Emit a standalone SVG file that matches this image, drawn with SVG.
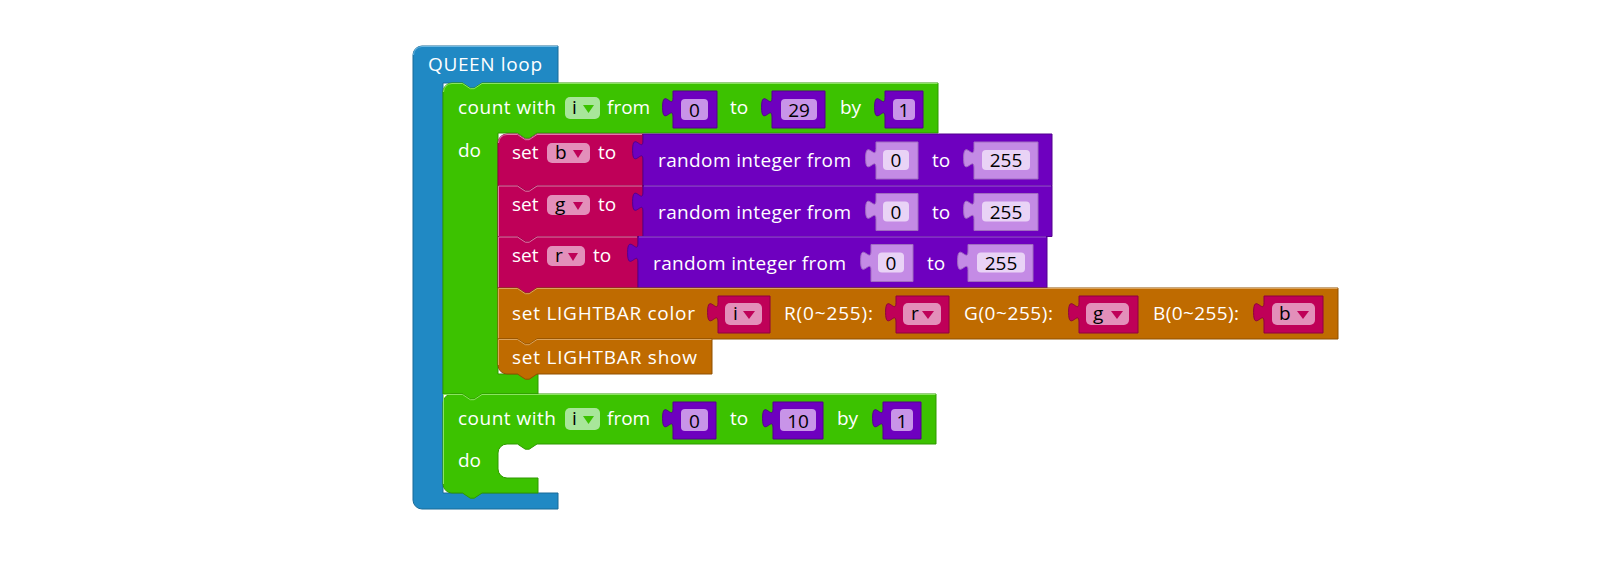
<svg xmlns="http://www.w3.org/2000/svg" width="1610" height="572" viewBox="0 0 1610 572">
<style>
.lbl{font-family:"Open Sans","Liberation Sans",sans-serif;font-size:19px;fill:#ffffff}
.fld{font-family:"Open Sans","Liberation Sans",sans-serif;font-size:19px;fill:#000000}
.fldc{font-family:"Open Sans","Liberation Sans",sans-serif;font-size:19px;fill:#000000;text-anchor:middle}
.blue{fill:#2089c4;stroke:#186a98;stroke-width:1}
.green{fill:#3cc200;stroke:#2f9900;stroke-width:1}
.red{fill:#bf0058;stroke:#8e0041;stroke-width:1}
.purple{fill:#6e00bf;stroke:#52008f;stroke-width:1}
.shadow{fill:#c48be5;stroke:#a06cc0;stroke-width:1}
.orange{fill:#bf6b00;stroke:#8f5000;stroke-width:1}
.hl{fill:none;stroke-width:1}
.hlg{stroke:#8be360}
.hlr{stroke:#e07aa8}
.hlp{stroke:#9d55d8}
.hlo{stroke:#dba25a}
.hlb{stroke:#6cb8e2}
.fc{fill:#c894e8}
.fs{fill:#e9d3f6}
.fp{fill:#e38fba}
.fg{fill:#a8e69a}
.ap{fill:#bf0058}
.ag{fill:#3cc200}
</style>

<g id="queen-loop">
<path class="blue" d="M413,55 a9,9 0 0 1 9,-9 H558 V83 H482 l-7.8,5.2 h-3.9 l-7.8,-5.2 H443 V493 H558 V509 H422 a9,9 0 0 1 -9,-9 Z"/>
<path class="hl hlb" d="M413.5,55 a8.5,8.5 0 0 1 8.5,-8.5 H557.5"/>
<text class="lbl" x="428" y="71" textLength="114">QUEEN loop</text>
</g>

<g id="count-1">
<path class="green" d="M443,92 a9,9 0 0 1 9,-9 H462.5 l7.8,5.2 h3.9 l7.8,-5.2 H938 V133 H537 l-7.8,5.2 h-3.9 l-7.8,-5.2 H498 V374 H538 V394 H482 l-7.8,5.2 h-3.9 l-7.8,-5.2 H443 Z"/>
<path class="hl hlg" d="M443.5,92 a8.5,8.5 0 0 1 8.5,-8.5 H462.5 l7.8,5.2 h3.9 l7.8,-5.2 H937.5"/>
<text class="lbl" x="458" y="114" textLength="98">count with</text>
<rect class="fg" x="565" y="97" width="35" height="22" rx="5"/>
<text class="fld" x="572" y="114">i</text>
<polygon class="ag" points="583,105 594,105 588.5,113"/>
<text class="lbl" x="607" y="114">from</text>
<path class="purple" d="M673,91 H717 V128 H673 V117 c0,-13 -10.4,10.4 -10.4,-9.75 s10.4,3.25 10.4,-9.75 Z"/>
<rect class="fc" x="681" y="99" width="27" height="21" rx="4"/>
<text class="fldc" x="694.5" y="117">0</text>
<text class="lbl" x="730" y="114">to</text>
<path class="purple" d="M772,91 H825 V128 H772 V117 c0,-13 -10.4,10.4 -10.4,-9.75 s10.4,3.25 10.4,-9.75 Z"/>
<rect class="fc" x="781" y="99" width="36" height="21" rx="4"/>
<text class="fldc" x="799" y="117">29</text>
<text class="lbl" x="840" y="114">by</text>
<path class="purple" d="M885,91 H923 V128 H885 V117 c0,-13 -10.4,10.4 -10.4,-9.75 s10.4,3.25 10.4,-9.75 Z"/>
<rect class="fc" x="893" y="99" width="22" height="21" rx="4"/>
<text class="fldc" x="904" y="117">1</text>
<text class="lbl" x="458" y="157">do</text>
</g>

<g id="set-b">
<path class="red" d="M498,143 a9,9 0 0 1 9,-9 H517.5 l7.8,5.2 h3.9 l7.8,-5.2 H643 V185.5 H537 l-7.8,5.2 h-3.9 l-7.8,-5.2 H498 Z"/>
<path class="hl hlr" d="M498.5,143 a8.5,8.5 0 0 1 8.5,-8.5 H517.5 l7.8,5.2 h3.9 l7.8,-5.2 H642"/>
<text class="lbl" x="512" y="159">set</text>
<rect class="fp" x="547" y="143" width="43" height="20" rx="5"/>
<text class="fld" x="555" y="159">b</text>
<polygon class="ap" points="573,150 583,150 578,158"/>
<text class="lbl" x="598" y="159">to</text>
</g>

<g id="random-b">
<path class="purple" d="M643,134 H1052 V185.5 H643 V160 c0,-13 -10.4,10.4 -10.4,-9.75 s10.4,3.25 10.4,-9.75 Z"/>
<text class="lbl" x="658" y="167" textLength="193">random integer from</text>
<path class="shadow" d="M876,142 H918 V179 H876 V168 c0,-13 -10.4,10.4 -10.4,-9.75 s10.4,3.25 10.4,-9.75 Z"/>
<rect class="fs" x="883" y="150" width="26" height="20" rx="4"/>
<text class="fldc" x="896" y="167">0</text>
<text class="lbl" x="932" y="167">to</text>
<path class="shadow" d="M974,142 H1038 V179 H974 V168 c0,-13 -10.4,10.4 -10.4,-9.75 s10.4,3.25 10.4,-9.75 Z"/>
<rect class="fs" x="982" y="150" width="48" height="20" rx="4"/>
<text class="fldc" x="1006" y="167">255</text>
</g>

<g id="set-g">
<path class="red" d="M498,185.5 H517.5 l7.8,5.2 h3.9 l7.8,-5.2 H643 V236.5 H537 l-7.8,5.2 h-3.9 l-7.8,-5.2 H498 Z"/>
<path class="hl hlr" d="M498.5,236 V186 H517.5 l7.8,5.2 h3.9 l7.8,-5.2 H642"/>
<text class="lbl" x="512" y="211">set</text>
<rect class="fp" x="547" y="195" width="43" height="20" rx="5"/>
<text class="fld" x="555" y="211">g</text>
<polygon class="ap" points="573,202 583,202 578,210"/>
<text class="lbl" x="598" y="211">to</text>
</g>

<g id="random-g">
<path class="purple" d="M643,185.5 H1052 V236.5 H643 V211.5 c0,-13 -10.4,10.4 -10.4,-9.75 s10.4,3.25 10.4,-9.75 Z"/>
<path class="hl hlp" d="M644,186 H1051"/>
<text class="lbl" x="658" y="219" textLength="193">random integer from</text>
<path class="shadow" d="M876,193.5 H918 V230.5 H876 V219.5 c0,-13 -10.4,10.4 -10.4,-9.75 s10.4,3.25 10.4,-9.75 Z"/>
<rect class="fs" x="883" y="201.5" width="26" height="20" rx="4"/>
<text class="fldc" x="896" y="218.5">0</text>
<text class="lbl" x="932" y="219">to</text>
<path class="shadow" d="M974,193.5 H1038 V230.5 H974 V219.5 c0,-13 -10.4,10.4 -10.4,-9.75 s10.4,3.25 10.4,-9.75 Z"/>
<rect class="fs" x="982" y="201.5" width="48" height="20" rx="4"/>
<text class="fldc" x="1006" y="218.5">255</text>
</g>

<g id="set-r">
<path class="red" d="M498,236.5 H517.5 l7.8,5.2 h3.9 l7.8,-5.2 H638 V288 H537 l-7.8,5.2 h-3.9 l-7.8,-5.2 H498 Z"/>
<path class="hl hlr" d="M498.5,287.5 V237 H517.5 l7.8,5.2 h3.9 l7.8,-5.2 H637"/>
<text class="lbl" x="512" y="262">set</text>
<rect class="fp" x="547" y="246" width="38" height="20" rx="5"/>
<text class="fld" x="555" y="262">r</text>
<polygon class="ap" points="568,253 578,253 573,261"/>
<text class="lbl" x="593" y="262">to</text>
</g>

<g id="random-r">
<path class="purple" d="M638,236.5 H1047 V288 H638 V262.5 c0,-13 -10.4,10.4 -10.4,-9.75 s10.4,3.25 10.4,-9.75 Z"/>
<path class="hl hlp" d="M639,237 H1046"/>
<text class="lbl" x="653" y="270" textLength="193">random integer from</text>
<path class="shadow" d="M871,244.5 H913 V281.5 H871 V270.5 c0,-13 -10.4,10.4 -10.4,-9.75 s10.4,3.25 10.4,-9.75 Z"/>
<rect class="fs" x="878" y="252.5" width="26" height="20" rx="4"/>
<text class="fldc" x="891" y="269.5">0</text>
<text class="lbl" x="927" y="270">to</text>
<path class="shadow" d="M968,244.5 H1033 V281.5 H968 V270.5 c0,-13 -10.4,10.4 -10.4,-9.75 s10.4,3.25 10.4,-9.75 Z"/>
<rect class="fs" x="977" y="252.5" width="48" height="20" rx="4"/>
<text class="fldc" x="1001" y="269.5">255</text>
</g>

<g id="lightbar-color">
<path class="orange" d="M498,288 H517.5 l7.8,5.2 h3.9 l7.8,-5.2 H1338 V339 H537 l-7.8,5.2 h-3.9 l-7.8,-5.2 H498 Z"/>
<path class="hl hlo" d="M498.5,338.5 V288.5 H517.5 l7.8,5.2 h3.9 l7.8,-5.2 H1337.5"/>
<text class="lbl" x="512" y="320" textLength="183">set LIGHTBAR color</text>
<path class="red" d="M718,296 H770 V333 H718 V322 c0,-13 -10.4,10.4 -10.4,-9.75 s10.4,3.25 10.4,-9.75 Z"/>
<rect class="fp" x="725" y="303" width="37" height="22" rx="5"/>
<text class="fld" x="733" y="320">i</text>
<polygon class="ap" points="743,311 755,311 749,319"/>
<text class="lbl" x="784" y="320" textLength="89">R(0~255):</text>
<path class="red" d="M896,296 H949 V333 H896 V322 c0,-13 -10.4,10.4 -10.4,-9.75 s10.4,3.25 10.4,-9.75 Z"/>
<rect class="fp" x="903" y="303" width="38" height="22" rx="5"/>
<text class="fld" x="911" y="320">r</text>
<polygon class="ap" points="922,311 934,311 928,319"/>
<text class="lbl" x="964" y="320" textLength="89">G(0~255):</text>
<path class="red" d="M1079,296 H1138 V333 H1079 V322 c0,-13 -10.4,10.4 -10.4,-9.75 s10.4,3.25 10.4,-9.75 Z"/>
<rect class="fp" x="1086" y="303" width="43" height="22" rx="5"/>
<text class="fld" x="1093" y="320">g</text>
<polygon class="ap" points="1111,311 1123,311 1117,319"/>
<text class="lbl" x="1153" y="320" textLength="86">B(0~255):</text>
<path class="red" d="M1264,296 H1323 V333 H1264 V322 c0,-13 -10.4,10.4 -10.4,-9.75 s10.4,3.25 10.4,-9.75 Z"/>
<rect class="fp" x="1272" y="303" width="43" height="22" rx="5"/>
<text class="fld" x="1279" y="320">b</text>
<polygon class="ap" points="1297,311 1309,311 1303,319"/>
</g>

<g id="lightbar-show">
<path class="orange" d="M498,339 H517.5 l7.8,5.2 h3.9 l7.8,-5.2 H712 V374 H537 l-7.8,5.2 h-3.9 l-7.8,-5.2 H507 a9,9 0 0 1 -9,-9 Z"/>
<path class="hl hlo" d="M498.5,365 V339.5 H517.5 l7.8,5.2 h3.9 l7.8,-5.2 H711.5"/>
<text class="lbl" x="512" y="364" textLength="185">set LIGHTBAR show</text>
</g>

<g id="count-2">
<path class="green" d="M443,403 a9,9 0 0 1 9,-9 H462.5 l7.8,5.2 h3.9 l7.8,-5.2 H936 V444 H537 l-7.8,5.2 h-3.9 l-7.8,-5.2 H507 a9,9 0 0 0 -9,9 V469 a9,9 0 0 0 9,9 H538 V493 H482 l-7.8,5.2 h-3.9 l-7.8,-5.2 H452 a9,9 0 0 1 -9,-9 Z"/>
<path class="hl hlg" d="M443.5,484 V394.5 H462.5 l7.8,5.2 h3.9 l7.8,-5.2 H935.5"/>
<text class="lbl" x="458" y="425" textLength="98">count with</text>
<rect class="fg" x="565" y="408" width="35" height="22" rx="5"/>
<text class="fld" x="572" y="425">i</text>
<polygon class="ag" points="583,416 594,416 588.5,424"/>
<text class="lbl" x="607" y="425">from</text>
<path class="purple" d="M673,402 H716 V439 H673 V428 c0,-13 -10.4,10.4 -10.4,-9.75 s10.4,3.25 10.4,-9.75 Z"/>
<rect class="fc" x="681" y="409" width="27" height="22" rx="4"/>
<text class="fldc" x="694.5" y="428">0</text>
<text class="lbl" x="730" y="425">to</text>
<path class="purple" d="M773,402 H823 V439 H773 V428 c0,-13 -10.4,10.4 -10.4,-9.75 s10.4,3.25 10.4,-9.75 Z"/>
<rect class="fc" x="780" y="409" width="36" height="22" rx="4"/>
<text class="fldc" x="798" y="428">10</text>
<text class="lbl" x="837" y="425">by</text>
<path class="purple" d="M883,402 H921 V439 H883 V428 c0,-13 -10.4,10.4 -10.4,-9.75 s10.4,3.25 10.4,-9.75 Z"/>
<rect class="fc" x="891" y="409" width="22" height="22" rx="4"/>
<text class="fldc" x="902" y="428">1</text>
<text class="lbl" x="458" y="467">do</text>
</g>

<g id="connectors"></g>
</svg>
